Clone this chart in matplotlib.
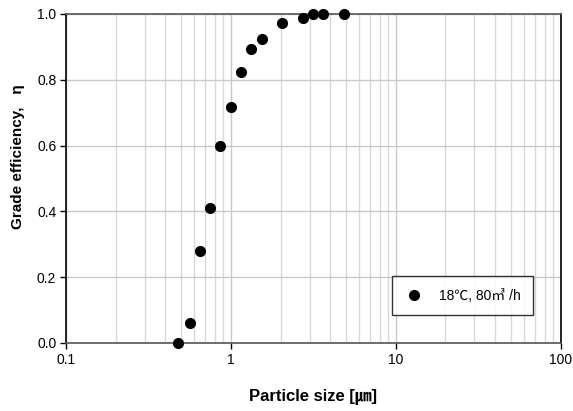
import matplotlib.pyplot as plt
from matplotlib.ticker import LogLocator, FixedLocator

# particle size [um] and grade efficiency
size_um = [0.48, 0.565, 0.65, 0.747, 0.859, 0.997, 1.15, 1.32, 1.54, 2.05, 2.72, 3.16, 3.63, 4.85]
efficiency = [0.0, 0.061, 0.28, 0.41, 0.599, 0.718, 0.823, 0.894, 0.925, 0.973, 0.988, 1.0, 1.0, 1.0]
x_ticks = [0.1, 1, 10, 100]
x_tick_labels = ["0.1", "1", "10", "100"]
y_ticks = [0.0, 0.2, 0.4, 0.6, 0.8, 1.0]

# Arial-like font, CJK fallback for the unit signs
plt.rcParams['font.family'] = ['Liberation Sans', 'Noto Sans CJK KR', 'DejaVu Sans']

fig = plt.figure(figsize=(5.73, 4.11), dpi=100)
ax = fig.add_axes([0.1152, 0.1655, 0.8633, 0.8005])

ax.set_xscale('log')
ax.set_xlim(0.1, 100)
ax.set_ylim(0, 1.0)

ax.xaxis.set_major_locator(FixedLocator(x_ticks))
ax.set_xticklabels(x_tick_labels)
ax.xaxis.set_minor_locator(LogLocator(base=10, subs=range(2, 10)))
ax.yaxis.set_major_locator(FixedLocator(y_ticks))
ax.set_yticklabels([f"{v:.1f}" for v in y_ticks])

ax.grid(True, which='major', axis='both', color='#c8c8c8', lw=1.0)
ax.grid(True, which='minor', axis='x', color='#d8d8d8', lw=1.0)
ax.set_axisbelow(True)

ax.tick_params(axis='both', which='major', direction='out', length=4, width=1,
               labelsize=10, colors='black', pad=3)
ax.tick_params(axis='x', which='minor', length=0)

for s in ['left', 'right']:
    ax.spines[s].set_color('black')
    ax.spines[s].set_linewidth(1.2)
for s in ['top', 'bottom']:
    ax.spines[s].set_color('#555555')
    ax.spines[s].set_linewidth(1.2)

ax.plot(size_um, efficiency, 'o', color='black', markersize=7, clip_on=False, zorder=5,
        label='18\u2103, 80\u33a5 /h')

ax.set_xlabel('Particle size [\u339b]', fontsize=12, fontweight='bold')
ax.xaxis.set_label_coords(0.5, -0.14)
ax.set_ylabel('Grade efficiency,   \u03b7', fontsize=11, fontweight='bold')
ax.yaxis.set_label_coords(-0.097, 0.565)
ax.yaxis.label.set_va('center')

leg = ax.legend(loc='lower left', bbox_to_anchor=(0.659, 0.085), frameon=True,
                fancybox=False, edgecolor='black', fontsize=10, handletextpad=1.1,
                borderpad=0.9, handlelength=1.4, borderaxespad=0)
leg.get_frame().set_linewidth(1.0)

fig.savefig('out.png', dpi=100)
